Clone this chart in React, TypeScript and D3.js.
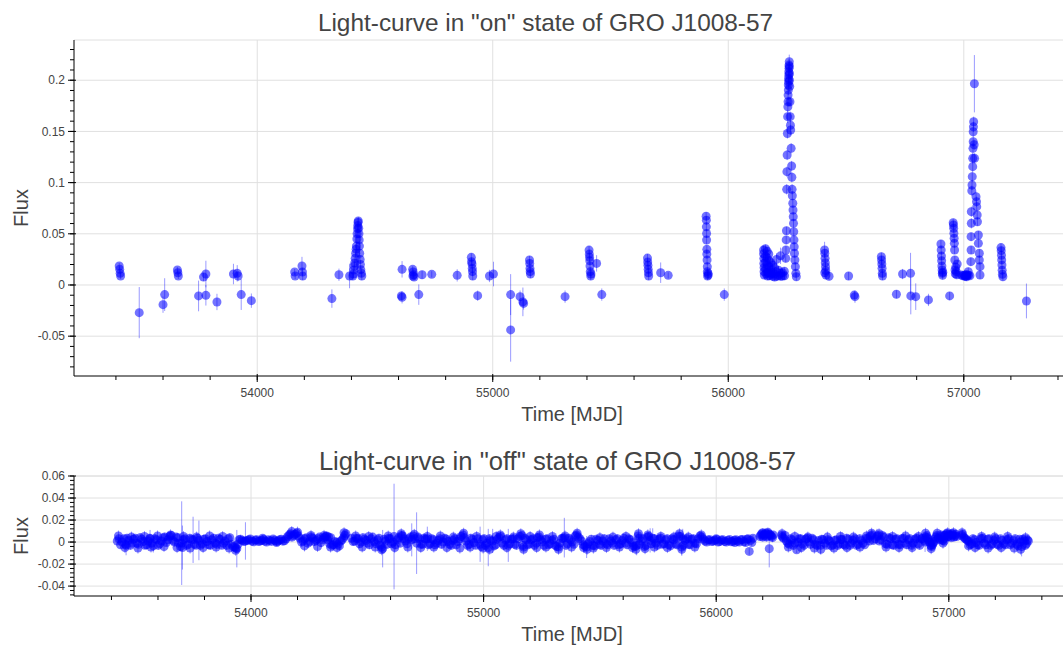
import React from 'react';
import * as d3 from 'd3';

type Pt = [number, number, number]; // [MJD, flux, error]

// ---------- "on" state light-curve ----------
const onQuiet1: Pt[] = [
  [53414, 0.0185, 0.003], [53416, 0.0153, 0.003], [53418, 0.0114, 0.003], [53420, 0.0088, 0.003],
  [53499, -0.027, 0.025],
  [53600, -0.0192, 0.008], [53607, -0.0094, 0.016],
  [53661, 0.0146, 0.003], [53663, 0.012, 0.003], [53665, 0.0088, 0.003],
  [53751, -0.0107, 0.015], [53772, 0.0078, 0.004], [53782, 0.0107, 0.013], [53782, -0.0101, 0.01],
  [53829, -0.0166, 0.008], [53899, 0.0107, 0.01], [53915, 0.0114, 0.008], [53919, 0.0088, 0.005],
  [53932, -0.0094, 0.015], [53975, -0.0153, 0.007],
  [54159, 0.0127, 0.003], [54161, 0.0088, 0.003], [54190, 0.0185, 0.009], [54192, 0.0127, 0.004], [54193, 0.0088, 0.004],
  [54317, -0.0133, 0.009], [54347, 0.01, 0.006], [54392, 0.0088, 0.012],
];
const onFlare2007: Pt[] = [
  [54406, 0.0088, 0.004], [54408, 0.0107, 0.004], [54410, 0.0146, 0.004], [54412, 0.0185, 0.004],
  [54414, 0.0215, 0.004], [54416, 0.026, 0.004], [54418, 0.031, 0.004], [54420, 0.035, 0.004],
  [54421, 0.038, 0.004], [54423, 0.045, 0.004], [54424, 0.05, 0.004], [54426, 0.055, 0.004],
  [54427, 0.058, 0.004], [54428, 0.061, 0.004], [54429, 0.0625, 0.004], [54431, 0.0555, 0.004],
  [54432, 0.05, 0.004], [54433, 0.044, 0.004], [54434, 0.038, 0.004], [54435, 0.031, 0.004],
  [54437, 0.025, 0.004], [54438, 0.02, 0.004], [54440, 0.015, 0.004], [54442, 0.0115, 0.004], [54444, 0.0088, 0.004],
];
const onQuiet2: Pt[] = [
  [54615, 0.0153, 0.008], [54612, -0.0107, 0.004], [54615, -0.012, 0.006],
  [54660, 0.0153, 0.003], [54662, 0.0127, 0.003], [54664, 0.01, 0.003], [54666, 0.0078, 0.003], [54661, 0.0088, 0.003],
  [54686, -0.0094, 0.01], [54700, 0.01, 0.004], [54741, 0.0104, 0.003], [54849, 0.0094, 0.006],
  [54909, 0.027, 0.004], [54910, 0.0227, 0.004], [54912, 0.0205, 0.004], [54913, 0.0162, 0.004], [54914, 0.013, 0.004], [54915, 0.0088, 0.004],
  [54936, -0.0104, 0.005], [54986, 0.0088, 0.006], [55003, 0.0107, 0.012],
  [55076, -0.0094, 0.02], [55076, -0.0439, 0.031], [55116, -0.0114, 0.006],
  [55128, -0.0165, 0.014], [55131, -0.018, 0.006],
  [55156, 0.0244, 0.004], [55157, 0.0211, 0.004], [55158, 0.0162, 0.004], [55159, 0.013, 0.004], [55160, 0.0107, 0.004],
  [55307, -0.0114, 0.006],
  [55409, 0.0341, 0.004], [55410, 0.0302, 0.004], [55411, 0.027, 0.004], [55412, 0.0237, 0.004],
  [55413, 0.0185, 0.004], [55414, 0.013, 0.004], [55416, 0.0088, 0.004], [55417, 0.0107, 0.004],
  [55441, 0.0211, 0.008], [55463, -0.0094, 0.006],
  [55657, 0.0263, 0.004], [55658, 0.0224, 0.004], [55659, 0.0192, 0.004], [55660, 0.0153, 0.004], [55661, 0.012, 0.004], [55662, 0.0088, 0.004],
  [55713, 0.012, 0.01], [55745, 0.0094, 0.003],
  [55906, 0.0672, 0.004], [55907, 0.0633, 0.004], [55907, 0.0568, 0.004], [55908, 0.0503, 0.004],
  [55908, 0.0439, 0.004], [55909, 0.0348, 0.004], [55909, 0.0302, 0.004], [55910, 0.0244, 0.004],
  [55911, 0.0179, 0.004], [55911, 0.013, 0.004], [55912, 0.0088, 0.004], [55914, 0.0112, 0.004], [55915, 0.0098, 0.004],
  [55983, -0.0094, 0.006],
];
const onPreFlare2012: Pt[] = [
  [56150, 0.0342, 0.004], [56150, 0.0305, 0.004], [56151, 0.026, 0.004], [56151, 0.021, 0.004], [56152, 0.017, 0.004], [56152, 0.013, 0.004], [56153, 0.0098, 0.004],
  [56158, 0.0355, 0.004], [56158, 0.028, 0.004], [56159, 0.0225, 0.004], [56159, 0.016, 0.004], [56160, 0.011, 0.004],
  [56165, 0.033, 0.004], [56165, 0.0265, 0.004], [56166, 0.0195, 0.004], [56166, 0.0125, 0.004], [56167, 0.0088, 0.004],
  [56172, 0.0303, 0.004], [56172, 0.024, 0.004], [56173, 0.018, 0.004], [56173, 0.012, 0.004], [56174, 0.009, 0.004],
  [56180, 0.022, 0.004], [56180, 0.015, 0.004], [56181, 0.0105, 0.004],
  [56188, 0.0195, 0.004], [56188, 0.012, 0.004], [56189, 0.0085, 0.004],
  [56196, 0.017, 0.004], [56196, 0.0107, 0.004], [56197, 0.0078, 0.004],
  [56205, 0.025, 0.006], [56205, 0.013, 0.004], [56206, 0.0085, 0.004],
  [56213, 0.0145, 0.004], [56214, 0.0092, 0.004],
  [56222, 0.0285, 0.008], [56222, 0.0115, 0.004], [56223, 0.0085, 0.004],
  [56230, 0.012, 0.004], [56231, 0.0088, 0.004], [56238, 0.0135, 0.004], [56239, 0.009, 0.004],
];
const onFlare2012: Pt[] = [
  [56244, 0.026, 0.004], [56245, 0.0342, 0.004], [56246, 0.044, 0.004], [56247, 0.053, 0.004],
  [56248, 0.0934, 0.005], [56249, 0.1107, 0.005], [56250, 0.127, 0.005], [56251, 0.148, 0.005],
  [56252, 0.1644, 0.006], [56253, 0.1741, 0.005], [56254, 0.179, 0.005], [56254, 0.1855, 0.005],
  [56255, 0.1904, 0.005], [56255, 0.1953, 0.005], [56256, 0.1985, 0.005], [56256, 0.2018, 0.005],
  [56257, 0.2051, 0.005], [56257, 0.2083, 0.005], [56258, 0.2116, 0.006], [56258, 0.2148, 0.006],
  [56259, 0.218, 0.007], [56259, 0.2135, 0.005], [56260, 0.2065, 0.005], [56260, 0.2, 0.005],
  [56261, 0.194, 0.005], [56262, 0.179, 0.005], [56263, 0.1644, 0.005], [56264, 0.156, 0.005],
  [56265, 0.1514, 0.005], [56267, 0.1335, 0.005], [56269, 0.1162, 0.005], [56270, 0.1052, 0.005],
  [56271, 0.0934, 0.005], [56272, 0.0872, 0.004], [56274, 0.0798, 0.004], [56275, 0.0732, 0.004],
  [56276, 0.0667, 0.004], [56277, 0.0602, 0.004], [56278, 0.052, 0.004], [56279, 0.044, 0.004],
  [56280, 0.0374, 0.004], [56281, 0.031, 0.004], [56283, 0.0244, 0.004], [56285, 0.0179, 0.004],
  [56287, 0.0114, 0.004], [56289, 0.0081, 0.004],
];
const onQuiet3: Pt[] = [
  [56409, 0.0342, 0.008], [56410, 0.031, 0.004], [56411, 0.026, 0.004], [56412, 0.0218, 0.004],
  [56413, 0.0179, 0.004], [56414, 0.014, 0.004], [56415, 0.0098, 0.004], [56410, 0.012, 0.004], [56428, 0.0085, 0.004],
  [56511, 0.0088, 0.004], [56535, -0.0099, 0.004], [56538, -0.0114, 0.006],
  [56650, 0.0277, 0.004], [56651, 0.0244, 0.004], [56652, 0.0205, 0.004], [56653, 0.0163, 0.004], [56654, 0.0114, 0.004], [56655, 0.0088, 0.004],
  [56714, -0.0091, 0.004], [56740, 0.0107, 0.005], [56774, 0.0114, 0.02], [56775, -0.0107, 0.018],
  [56796, -0.0114, 0.013], [56850, -0.0146, 0.006],
  [56903, 0.04, 0.004], [56904, 0.0342, 0.004], [56905, 0.0283, 0.004], [56906, 0.0237, 0.004],
  [56907, 0.0186, 0.004], [56908, 0.0146, 0.004], [56909, 0.0114, 0.004], [56910, 0.0094, 0.004], [56911, 0.0125, 0.004],
  [56940, -0.0107, 0.004],
  [56955, 0.0608, 0.004], [56956, 0.0586, 0.004], [56957, 0.0553, 0.004], [56958, 0.0505, 0.004],
  [56959, 0.0456, 0.004], [56960, 0.0407, 0.004], [56961, 0.0342, 0.004], [56962, 0.0244, 0.004],
  [56963, 0.0146, 0.004], [56964, 0.011, 0.004], [56966, 0.0175, 0.004], [56968, 0.013, 0.004],
  [56970, 0.01, 0.004], [56972, 0.0205, 0.004],
  [56990, 0.0098, 0.003], [56996, 0.009, 0.003], [57002, 0.0095, 0.003], [57005, 0.0085, 0.003],
  [57008, 0.0088, 0.003], [57011, 0.0102, 0.003], [57014, 0.0092, 0.003], [57020, 0.0095, 0.003], [57026, 0.009, 0.003],
];
const onFlare2015: Pt[] = [
  [57012, 0.0081, 0.004], [57019, 0.013, 0.004], [57030, 0.0228, 0.004], [57031, 0.0342, 0.004],
  [57031, 0.0472, 0.004], [57032, 0.0602, 0.005], [57032, 0.0716, 0.005], [57034, 0.0921, 0.005],
  [57035, 0.0977, 0.005], [57036, 0.1058, 0.005], [57038, 0.1156, 0.005], [57038, 0.1237, 0.005],
  [57039, 0.1335, 0.005], [57040, 0.14, 0.005], [57040, 0.1497, 0.005], [57041, 0.1545, 0.005],
  [57042, 0.1595, 0.005], [57045, 0.1966, 0.028], [57044, 0.137, 0.005], [57046, 0.1237, 0.005],
  [57052, 0.0863, 0.005], [57054, 0.0814, 0.005], [57055, 0.0765, 0.005], [57057, 0.0684, 0.004],
  [57058, 0.0618, 0.004], [57062, 0.0488, 0.004], [57062, 0.0407, 0.004], [57066, 0.031, 0.004],
  [57066, 0.0244, 0.004], [57069, 0.0179, 0.004], [57069, 0.0098, 0.004],
  [57158, 0.0365, 0.004], [57159, 0.0335, 0.004], [57160, 0.029, 0.004], [57161, 0.0245, 0.004],
  [57162, 0.0195, 0.004], [57163, 0.0145, 0.004], [57164, 0.0105, 0.004], [57166, 0.0081, 0.004],
  [57266, -0.0156, 0.017],
];

// ---------- "off" state light-curve ----------
const offBand1: Pt[] = [
  [53425, 0.001, 0.003], [53439, -0.0025, 0.003], [53453, 0.003, 0.003], [53463, -0.003, 0.009],
  [53474, 0.0015, 0.003], [53488, -0.001, 0.003], [53502, 0.0035, 0.003], [53516, -0.002, 0.003],
  [53530, 0.0025, 0.003], [53544, -0.003, 0.003], [53558, 0.001, 0.003], [53566, 0.003, 0.008],
  [53580, -0.0035, 0.006], [53594, 0.002, 0.003], [53608, -0.0015, 0.003], [53622, 0.004, 0.003],
  [53636, -0.0005, 0.003], [53650, 0.005, 0.003], [53664, 0.0015, 0.003], [53678, 0.0045, 0.003],
  [53690, -0.001, 0.003], [53702, -0.001, 0.038], [53705, -0.005, 0.02], [53716, 0.003, 0.003],
  [53730, -0.002, 0.003], [53744, 0.0025, 0.003], [53751, 0.002, 0.021], [53764, -0.003, 0.003],
  [53776, 0.0015, 0.018], [53790, -0.0015, 0.003], [53804, 0.003, 0.003], [53818, -0.0025, 0.003],
  [53832, 0.002, 0.003], [53846, -0.001, 0.003], [53860, 0.0035, 0.003], [53874, -0.003, 0.003],
  [53888, 0.001, 0.003], [53902, 0.003, 0.003], [53916, -0.002, 0.003], [53930, -0.0045, 0.003],
  [53939, -0.006, 0.017], [53948, 0.002, 0.003], [53962, 0.0015, 0.003], [53976, 0.001, 0.017],
  [53990, 0.002, 0.002], [54004, 0.0008, 0.002], [54018, 0.0018, 0.002], [54032, 0.0005, 0.002],
  [54046, 0.0015, 0.002], [54060, 0.001, 0.002], [54074, 0.0022, 0.002], [54088, 0.0006, 0.002],
  [54102, 0.0016, 0.002], [54116, 0.001, 0.002], [54130, 0.0025, 0.002], [54144, 0.0012, 0.002],
  [54158, 0.005, 0.003], [54170, 0.0075, 0.003], [54182, 0.006, 0.003], [54196, 0.008, 0.003],
  [54210, 0.0035, 0.003], [54224, 0.001, 0.003], [54238, 0.004, 0.003], [54252, 0.0005, 0.003],
  [54266, 0.0035, 0.003], [54280, 0.0015, 0.003], [54294, 0.0045, 0.003], [54308, 0.002, 0.003],
  [54320, 0.005, 0.003], [54330, 0.002, 0.003], [54338, -0.0015, 0.003], [54348, -0.003, 0.003],
  [54362, 0.0005, 0.003], [54374, -0.002, 0.003], [54386, 0.001, 0.003], [54398, 0.004, 0.003],
  [54408, 0.0075, 0.003],
];
const offBand1b: Pt[] = [
  [53432, 0.003, 0.004], [53446, 0.0, 0.004], [53460, -0.002, 0.004], [53467, 0.0035, 0.004],
  [53481, -0.003, 0.004], [53495, 0.0025, 0.004], [53509, -0.001, 0.004], [53523, 0.004, 0.004],
  [53537, 0.0005, 0.004], [53551, -0.0025, 0.004], [53565, 0.0035, 0.004], [53573, -0.001, 0.004],
  [53587, 0.003, 0.004], [53601, -0.003, 0.004], [53615, 0.001, 0.004], [53629, 0.0045, 0.004],
  [53643, 0.002, 0.004], [53657, 0.006, 0.004], [53671, 0.0, 0.004], [53685, 0.004, 0.004],
  [53697, -0.004, 0.004], [53709, 0.002, 0.004], [53723, -0.003, 0.004], [53737, 0.0035, 0.004],
  [53757, -0.002, 0.004], [53770, 0.0035, 0.004], [53783, -0.003, 0.004], [53797, 0.0025, 0.004],
  [53811, 0.0005, 0.004], [53825, -0.003, 0.004], [53839, 0.0035, 0.004], [53853, -0.002, 0.004],
  [53867, 0.0025, 0.004], [53881, -0.001, 0.004], [53895, -0.003, 0.004], [53909, 0.004, 0.004],
  [53923, -0.004, 0.004], [53935, -0.0055, 0.004], [53944, -0.002, 0.004], [53955, 0.0025, 0.004],
  [53969, 0.0005, 0.003], [53983, 0.0015, 0.003], [53997, 0.0028, 0.003], [54011, 0.0002, 0.003],
  [54025, 0.0022, 0.003], [54039, 0.001, 0.003], [54053, 0.0025, 0.003], [54067, 0.0, 0.003],
  [54081, 0.0015, 0.003], [54095, 0.0028, 0.003], [54109, 0.0004, 0.003], [54123, 0.002, 0.003],
  [54137, 0.0008, 0.003], [54151, 0.003, 0.003], [54164, 0.0065, 0.004], [54176, 0.0045, 0.004],
  [54189, 0.007, 0.004], [54203, 0.0055, 0.004], [54217, 0.0, 0.004], [54231, 0.003, 0.004],
  [54245, -0.001, 0.004], [54259, 0.0045, 0.004], [54273, 0.0005, 0.004], [54287, 0.003, 0.004],
  [54301, -0.0005, 0.004], [54314, 0.004, 0.004], [54325, 0.0055, 0.004], [54334, 0.0045, 0.004],
  [54343, 0.004, 0.004], [54355, -0.0025, 0.004], [54368, -0.0005, 0.004], [54380, -0.0035, 0.004],
  [54392, 0.002, 0.004], [54403, 0.006, 0.004],
];
const offBand2: Pt[] = [
  [54432, 0.0035, 0.003], [54446, 0.001, 0.003], [54460, 0.003, 0.003], [54474, 0.0, 0.003],
  [54488, 0.0025, 0.003], [54502, -0.001, 0.003], [54516, 0.003, 0.003], [54530, 0.0005, 0.003],
  [54544, 0.002, 0.003], [54556, -0.003, 0.003], [54566, -0.006, 0.017], [54578, 0.001, 0.003],
  [54592, 0.0035, 0.003], [54604, -0.0015, 0.003], [54615, 0.005, 0.048], [54628, 0.002, 0.003],
  [54642, -0.001, 0.003], [54652, 0.0055, 0.003], [54664, 0.001, 0.003], [54678, 0.003, 0.003],
  [54691, 0.002, 0.015], [54698, 0.0055, 0.003], [54712, -0.001, 0.028], [54724, 0.003, 0.003],
  [54738, -0.002, 0.003], [54750, 0.0025, 0.003], [54758, 0.003, 0.011], [54770, -0.0015, 0.003],
  [54784, 0.002, 0.003], [54798, -0.001, 0.003], [54812, 0.003, 0.003], [54826, 0.0, 0.003],
  [54840, 0.0025, 0.003], [54854, -0.002, 0.003], [54868, 0.0015, 0.003], [54882, -0.0025, 0.003],
  [54896, 0.003, 0.003], [54911, 0.0065, 0.003], [54924, 0.001, 0.003], [54938, -0.002, 0.003],
  [54952, 0.0025, 0.003], [54966, -0.003, 0.003], [54985, -0.002, 0.016], [54996, 0.002, 0.003],
  [55008, -0.003, 0.003], [55020, -0.005, 0.017], [55030, 0.0015, 0.003], [55039, 0.001, 0.011],
  [55052, -0.0025, 0.003], [55066, 0.004, 0.003], [55080, -0.001, 0.003], [55094, 0.002, 0.003],
  [55106, -0.003, 0.015], [55120, 0.0025, 0.003], [55134, -0.002, 0.003], [55148, 0.003, 0.003],
  [55164, 0.006, 0.003], [55172, -0.0045, 0.003], [55184, 0.002, 0.003], [55198, -0.0015, 0.003],
  [55212, 0.003, 0.003], [55226, -0.001, 0.003], [55238, 0.0045, 0.003], [55252, 0.0, 0.003],
  [55266, 0.0025, 0.003], [55280, -0.0025, 0.003], [55294, 0.0015, 0.003], [55308, -0.003, 0.003],
  [55322, -0.0045, 0.003], [55334, 0.003, 0.003], [55347, 0.004, 0.018], [55360, -0.0015, 0.003],
  [55374, 0.002, 0.003], [55388, -0.002, 0.003], [55400, 0.0065, 0.003], [55414, 0.003, 0.003],
  [55428, -0.0025, 0.003], [55443, -0.0045, 0.01], [55456, 0.0005, 0.003], [55470, -0.003, 0.003],
  [55484, 0.0025, 0.003], [55498, -0.002, 0.003], [55512, 0.001, 0.003], [55526, -0.0015, 0.003],
  [55540, 0.003, 0.003], [55554, -0.001, 0.003], [55568, 0.002, 0.003], [55582, -0.0025, 0.003],
  [55596, 0.0015, 0.003], [55610, -0.001, 0.003], [55624, 0.003, 0.003], [55638, -0.0005, 0.003],
  [55652, -0.004, 0.003], [55658, -0.003, 0.009], [55664, 0.0055, 0.003], [55678, 0.001, 0.003],
  [55692, -0.004, 0.003], [55704, 0.0045, 0.003], [55716, 0.0015, 0.011], [55727, 0.0035, 0.009],
  [55740, -0.001, 0.003], [55754, 0.0025, 0.003], [55768, -0.002, 0.003], [55782, 0.002, 0.003],
  [55796, -0.0025, 0.003], [55810, 0.003, 0.003], [55824, -0.0015, 0.003], [55838, 0.0055, 0.003],
  [55852, -0.0045, 0.008], [55856, 0.003, 0.009], [55866, 0.0015, 0.003], [55880, -0.002, 0.003],
  [55894, 0.0025, 0.003], [55908, -0.001, 0.003], [55922, 0.003, 0.003], [55938, 0.0045, 0.003],
  [55952, 0.001, 0.002], [55966, 0.002, 0.002], [55980, 0.0005, 0.002], [55994, 0.0015, 0.002],
  [56008, 0.0, 0.002], [56022, 0.0018, 0.002], [56036, 0.0006, 0.002], [56050, 0.0014, 0.002],
  [56064, 0.0002, 0.002], [56078, 0.0016, 0.002], [56092, 0.0008, 0.002], [56106, 0.002, 0.002],
  [56120, 0.0004, 0.002], [56132, 0.0025, 0.003], [56142, -0.0085, 0.003], [56148, 0.0015, 0.003],
  [56158, 0.0035, 0.003],
];
const offBand2b: Pt[] = [
  [54439, 0.0005, 0.004], [54453, 0.0035, 0.004], [54467, -0.0015, 0.004], [54481, 0.004, 0.004],
  [54495, 0.0015, 0.004], [54509, -0.0025, 0.004], [54523, 0.0045, 0.004], [54537, -0.0015, 0.004],
  [54550, 0.0035, 0.004], [54561, -0.0045, 0.004], [54572, 0.0025, 0.004], [54585, -0.002, 0.004],
  [54598, 0.003, 0.004], [54610, 0.0, 0.004], [54621, -0.0025, 0.004], [54635, 0.004, 0.004],
  [54647, 0.006, 0.004], [54658, 0.003, 0.004], [54671, -0.0015, 0.004], [54685, 0.0045, 0.004],
  [54704, 0.003, 0.004], [54718, 0.0045, 0.004], [54731, -0.002, 0.004], [54744, 0.0035, 0.004],
  [54764, -0.0025, 0.004], [54777, 0.003, 0.004], [54791, -0.0025, 0.004], [54805, 0.0015, 0.004],
  [54819, -0.002, 0.004], [54833, 0.0035, 0.004], [54847, 0.0005, 0.004], [54861, -0.003, 0.004],
  [54875, 0.003, 0.004], [54889, 0.0005, 0.004], [54903, 0.005, 0.004], [54917, 0.004, 0.004],
  [54931, -0.003, 0.004], [54945, 0.0035, 0.004], [54959, -0.0005, 0.004], [54975, 0.003, 0.004],
  [54990, -0.004, 0.004], [55002, 0.003, 0.004], [55014, -0.001, 0.004], [55025, 0.003, 0.004],
  [55045, -0.0035, 0.004], [55059, 0.0025, 0.004], [55073, 0.005, 0.004], [55087, -0.003, 0.004],
  [55100, 0.003, 0.004], [55113, -0.0015, 0.004], [55127, 0.003, 0.004], [55141, -0.003, 0.004],
  [55156, 0.005, 0.004], [55168, -0.003, 0.004], [55178, 0.0035, 0.004], [55191, -0.0025, 0.004],
  [55205, 0.002, 0.004], [55219, -0.003, 0.004], [55231, 0.004, 0.004], [55245, 0.002, 0.004],
  [55259, -0.003, 0.004], [55273, 0.003, 0.004], [55287, -0.0015, 0.004], [55301, 0.0025, 0.004],
  [55315, -0.004, 0.004], [55328, -0.001, 0.004], [55340, 0.0035, 0.004], [55354, -0.003, 0.004],
  [55367, 0.0035, 0.004], [55381, 0.0, 0.004], [55394, 0.0055, 0.004], [55407, 0.0045, 0.004],
  [55421, 0.001, 0.004], [55436, -0.0035, 0.004], [55449, -0.0015, 0.004], [55463, 0.0025, 0.004],
  [55477, -0.0035, 0.004], [55491, 0.0015, 0.004], [55505, -0.003, 0.004], [55519, 0.003, 0.004],
  [55533, -0.0025, 0.004], [55547, 0.001, 0.004], [55561, -0.003, 0.004], [55575, 0.003, 0.004],
  [55589, -0.0015, 0.004], [55603, 0.0035, 0.004], [55617, -0.0025, 0.004], [55631, 0.002, 0.004],
  [55645, -0.0035, 0.004], [55668, 0.0035, 0.004], [55671, -0.002, 0.004], [55685, 0.003, 0.004],
  [55698, -0.003, 0.004], [55710, 0.005, 0.004], [55721, -0.0015, 0.004], [55734, 0.003, 0.004],
  [55747, -0.003, 0.004], [55761, 0.0035, 0.004], [55775, -0.0015, 0.004], [55789, 0.003, 0.004],
  [55803, -0.0035, 0.004], [55817, 0.002, 0.004], [55831, -0.0025, 0.004], [55845, 0.005, 0.004],
  [55859, -0.003, 0.004], [55873, 0.003, 0.004], [55887, -0.0025, 0.004], [55901, 0.003, 0.004],
  [55915, -0.0015, 0.004], [55930, 0.0055, 0.004], [55945, 0.0025, 0.003], [55959, 0.0, 0.003],
  [55973, 0.0022, 0.003], [55987, 0.0008, 0.003], [56001, 0.0024, 0.003], [56015, 0.0004, 0.003],
  [56029, 0.002, 0.003], [56043, 0.0, 0.003], [56057, 0.0024, 0.003], [56071, 0.0006, 0.003],
  [56085, 0.0022, 0.003], [56099, 0.0, 0.003], [56113, 0.0024, 0.003], [56126, -0.0005, 0.003],
  [56137, 0.003, 0.003], [56153, -0.0005, 0.003],
];
const offBand3: Pt[] = [
  [56188, 0.005, 0.003], [56196, 0.0075, 0.003], [56204, 0.006, 0.003], [56212, 0.008, 0.003],
  [56220, 0.0055, 0.003], [56228, -0.006, 0.017], [56230, 0.007, 0.003], [56238, 0.005, 0.003],
  [56245, 0.0065, 0.003],
  [56192, 0.0065, 0.004], [56200, 0.0045, 0.004], [56208, 0.007, 0.004], [56216, 0.0045, 0.004],
  [56224, 0.0075, 0.004], [56234, 0.006, 0.004], [56242, 0.004, 0.004],
];
const offBand4: Pt[] = [
  [56281, 0.006, 0.003], [56290, 0.0035, 0.003], [56302, 0.001, 0.003], [56314, -0.002, 0.003],
  [56326, 0.002, 0.003], [56338, -0.001, 0.003], [56346, -0.007, 0.003], [56356, 0.003, 0.003],
  [56370, -0.0015, 0.003], [56384, 0.0025, 0.003], [56398, 0.0, 0.003], [56412, 0.0035, 0.003],
  [56426, -0.002, 0.003], [56440, 0.0015, 0.003], [56448, -0.003, 0.008], [56460, 0.002, 0.003],
  [56474, -0.003, 0.003], [56488, 0.001, 0.003], [56502, -0.0025, 0.003], [56516, 0.002, 0.003],
  [56530, -0.0015, 0.003], [56541, 0.002, 0.007], [56554, -0.003, 0.003], [56568, 0.0025, 0.003],
  [56582, -0.001, 0.003], [56596, 0.003, 0.003], [56610, -0.002, 0.003], [56624, 0.0015, 0.003],
  [56638, -0.0025, 0.003], [56652, 0.003, 0.003], [56664, 0.0055, 0.003], [56676, 0.0015, 0.003],
  [56691, 0.005, 0.007], [56702, 0.001, 0.003], [56714, 0.006, 0.003], [56728, -0.0015, 0.003],
  [56742, 0.004, 0.003], [56756, -0.0025, 0.003], [56770, 0.0025, 0.003], [56784, -0.002, 0.003],
  [56798, 0.003, 0.003], [56812, -0.001, 0.003], [56826, 0.002, 0.003], [56840, -0.003, 0.003],
  [56854, 0.0025, 0.003], [56868, -0.0015, 0.003], [56882, 0.003, 0.003], [56894, 0.0015, 0.003],
  [56898, 0.0, 0.009], [56905, 0.006, 0.003], [56912, 0.0025, 0.003], [56919, -0.0005, 0.003],
  [56926, -0.004, 0.003], [56933, -0.001, 0.003], [56940, 0.0025, 0.003], [56948, 0.006, 0.003],
  [56962, 0.002, 0.003], [56969, 0.005, 0.003], [56978, 0.003, 0.003], [56980, 0.0008, 0.003],
  [56986, 0.0065, 0.003], [56994, 0.0045, 0.003], [57002, 0.007, 0.003], [57010, 0.004, 0.003],
  [57018, 0.0065, 0.003], [57026, 0.0055, 0.003], [57034, 0.005, 0.003],
];
const offBand4b: Pt[] = [
  [56285, 0.0045, 0.004], [56296, 0.006, 0.004], [56308, -0.001, 0.004], [56320, 0.003, 0.004],
  [56332, -0.003, 0.004], [56351, 0.0, 0.004], [56363, 0.003, 0.004], [56377, -0.003, 0.004],
  [56391, 0.0035, 0.004], [56405, -0.002, 0.004], [56419, 0.002, 0.004], [56433, -0.003, 0.004],
  [56454, 0.0025, 0.004], [56467, -0.001, 0.004], [56481, 0.002, 0.004], [56495, -0.0035, 0.004],
  [56509, 0.0015, 0.004], [56523, -0.003, 0.004], [56536, 0.0025, 0.004], [56547, -0.002, 0.004],
  [56561, 0.0035, 0.004], [56575, -0.003, 0.004], [56589, 0.0015, 0.004], [56603, -0.003, 0.004],
  [56617, 0.003, 0.004], [56631, -0.001, 0.004], [56645, 0.0035, 0.004], [56658, 0.001, 0.004],
  [56670, 0.0065, 0.004], [56684, 0.003, 0.004], [56696, 0.006, 0.004], [56708, 0.002, 0.004],
  [56721, 0.0045, 0.004], [56735, -0.002, 0.004], [56749, 0.003, 0.004], [56763, -0.003, 0.004],
  [56777, 0.003, 0.004], [56791, -0.0025, 0.004], [56805, 0.0035, 0.004], [56819, -0.0025, 0.004],
  [56833, 0.003, 0.004], [56847, -0.001, 0.004], [56861, 0.0035, 0.004], [56875, -0.003, 0.004],
  [56888, 0.0035, 0.004], [56902, 0.0045, 0.004], [56909, 0.004, 0.004], [56915, 0.0005, 0.004],
  [56922, -0.003, 0.004], [56930, -0.0025, 0.004], [56937, 0.0005, 0.004], [56944, 0.0045, 0.004],
  [56955, 0.0035, 0.004], [56966, 0.0065, 0.004], [56974, 0.0015, 0.004], [56982, 0.006, 0.004],
  [56990, 0.0075, 0.004], [56998, 0.005, 0.004], [57006, 0.006, 0.004], [57014, 0.0075, 0.004],
  [57022, 0.0045, 0.004], [57030, 0.007, 0.004],
];
const offBand5: Pt[] = [
  [57055, 0.006, 0.003], [57064, 0.0045, 0.003], [57074, 0.0025, 0.003], [57086, 0.0005, 0.003],
  [57098, -0.0015, 0.003], [57110, 0.002, 0.003], [57124, -0.0025, 0.003], [57138, 0.003, 0.003],
  [57152, -0.001, 0.003], [57166, 0.0025, 0.003], [57180, -0.003, 0.003], [57194, 0.0015, 0.003],
  [57208, -0.002, 0.003], [57222, 0.003, 0.003], [57236, -0.0015, 0.003], [57250, 0.002, 0.003],
  [57264, -0.0025, 0.003], [57278, 0.0015, 0.003], [57292, -0.002, 0.003], [57304, 0.0025, 0.003],
  [57313, -0.004, 0.009], [57324, 0.001, 0.003], [57334, -0.0015, 0.003], [57342, 0.001, 0.003],
  [57059, 0.007, 0.004], [57069, 0.0035, 0.004], [57080, 0.0015, 0.004], [57092, -0.0025, 0.004],
  [57104, 0.003, 0.004], [57117, -0.0005, 0.004], [57131, -0.003, 0.004], [57145, 0.0035, 0.004],
  [57159, -0.0025, 0.004], [57173, 0.003, 0.004], [57187, -0.0015, 0.004], [57201, 0.003, 0.004],
  [57215, -0.003, 0.004], [57229, 0.0015, 0.004], [57243, -0.0025, 0.004], [57257, 0.003, 0.004],
  [57271, -0.001, 0.004], [57285, 0.003, 0.004], [57298, -0.0035, 0.004], [57308, 0.0, 0.004],
  [57319, 0.0025, 0.004], [57329, -0.003, 0.004], [57338, 0.002, 0.004],
];
// scattered points on the edges of the "off" band
const offEdges: Pt[] = [
  [53430, 0.0055, 0.005], [53458, -0.005, 0.005], [53486, 0.0045, 0.005], [53514, -0.0055, 0.005],
  [53542, 0.005, 0.005], [53570, -0.0045, 0.005], [53598, 0.0055, 0.005], [53626, -0.004, 0.005],
  [53654, 0.0065, 0.005], [53682, -0.005, 0.005], [53710, 0.005, 0.005], [53738, -0.0055, 0.005],
  [53766, 0.0045, 0.005], [53794, -0.005, 0.005], [53822, 0.0055, 0.005], [53850, -0.0045, 0.005],
  [53878, 0.005, 0.005], [53906, -0.0055, 0.005], [53934, -0.0075, 0.005],
  [54050, 0.0035, 0.003], [54110, -0.0005, 0.003],
  [54175, 0.0095, 0.005], [54200, 0.009, 0.005], [54230, -0.0035, 0.005], [54258, 0.006, 0.005],
  [54286, -0.004, 0.005], [54314, 0.006, 0.005], [54342, -0.0045, 0.005], [54370, -0.005, 0.005],
  [54400, 0.0085, 0.005],
  [54450, 0.0055, 0.005], [54478, -0.0045, 0.005], [54506, 0.005, 0.005], [54534, -0.0045, 0.005],
  [54562, -0.007, 0.005], [54590, 0.0055, 0.005], [54618, -0.005, 0.005], [54646, 0.0075, 0.005],
  [54674, -0.0045, 0.005], [54702, 0.007, 0.005], [54730, -0.005, 0.005], [54758, 0.005, 0.005],
  [54786, -0.0045, 0.005], [54814, 0.0055, 0.005], [54842, -0.005, 0.005], [54870, 0.0045, 0.005],
  [54898, -0.0055, 0.005], [54914, 0.008, 0.005], [54942, -0.0045, 0.005], [54970, 0.005, 0.005],
  [54998, -0.0055, 0.005], [55026, -0.0065, 0.005], [55054, 0.005, 0.005], [55072, 0.0065, 0.005],
  [55100, -0.005, 0.005], [55128, 0.0045, 0.005], [55160, 0.0075, 0.005], [55172, -0.0065, 0.005],
  [55200, 0.005, 0.005], [55228, -0.005, 0.005], [55240, 0.0065, 0.005], [55268, -0.0045, 0.005],
  [55296, 0.005, 0.005], [55322, -0.0065, 0.005], [55350, 0.0055, 0.005], [55378, -0.0045, 0.005],
  [55402, 0.008, 0.005], [55430, -0.005, 0.005], [55445, -0.0065, 0.005], [55472, -0.0055, 0.005],
  [55500, 0.004, 0.005], [55528, -0.005, 0.005], [55556, 0.0045, 0.005], [55584, -0.0045, 0.005],
  [55612, 0.005, 0.005], [55640, -0.005, 0.005], [55655, -0.0065, 0.005], [55666, 0.0075, 0.005],
  [55694, -0.006, 0.005], [55706, 0.0065, 0.005], [55734, -0.0045, 0.005], [55762, 0.005, 0.005],
  [55790, -0.005, 0.005], [55818, 0.0045, 0.005], [55842, 0.0075, 0.005], [55852, -0.0065, 0.005],
  [55880, 0.0045, 0.005], [55908, -0.0045, 0.005], [55936, 0.0065, 0.005],
  [56000, 0.003, 0.003], [56080, -0.0005, 0.003],
  [56200, 0.0085, 0.004], [56222, 0.009, 0.004],
  [56283, 0.0075, 0.005], [56310, -0.0045, 0.005], [56338, 0.005, 0.005], [56366, -0.005, 0.005],
  [56394, 0.0045, 0.005], [56422, -0.0055, 0.005], [56450, -0.0065, 0.005], [56478, 0.0045, 0.005],
  [56506, -0.0055, 0.005], [56534, 0.005, 0.005], [56562, -0.005, 0.005], [56590, 0.0045, 0.005],
  [56618, -0.0045, 0.005], [56646, 0.0055, 0.005], [56668, 0.008, 0.005], [56700, 0.0075, 0.005],
  [56730, -0.0045, 0.005], [56758, 0.005, 0.005], [56786, -0.005, 0.005], [56814, 0.0055, 0.005],
  [56842, -0.005, 0.005], [56870, 0.005, 0.005], [56900, 0.008, 0.005], [56924, -0.006, 0.005],
  [56950, 0.008, 0.005], [56975, -0.001, 0.005], [56995, 0.0085, 0.005], [57020, 0.0085, 0.005],
  [57057, 0.0085, 0.005], [57085, -0.0035, 0.005], [57113, -0.005, 0.005], [57141, 0.005, 0.005],
  [57169, -0.0055, 0.005], [57197, 0.0045, 0.005], [57225, -0.005, 0.005], [57253, 0.005, 0.005],
  [57281, -0.0055, 0.005], [57309, -0.0065, 0.005], [57330, 0.004, 0.005],
];

// ---------- axes ----------
const xMajorTicks = [54000, 55000, 56000, 57000];
const onYTicks = [-0.05, 0, 0.05, 0.1, 0.15, 0.2];
const offYTicks = [-0.04, -0.02, 0, 0.02, 0.04, 0.06];
const onTitle = 'Light-curve in "on" state of GRO J1008-57';
const offTitle = 'Light-curve in "off" state of GRO J1008-57';
const xLabel = 'Time [MJD]';
const yLabel = 'Flux';

const FONT = "'Liberation Sans', Arial, Helvetica, sans-serif";
const TEXT = '#444444';
const GRID = '#e0e0e0';

interface PanelProps {
  id: string;
  points: Pt[];
  xDomain: [number, number];
  yDomain: [number, number];
  left: number; right: number; top: number; bottom: number;
  yTicks: number[];
  yMinorStep: number;
  title: string;
  titleY: number;
  titleX: number;
  titleSize: number;
  xLabelY: number;
}

function Panel(p: PanelProps) {
  const x = d3.scaleLinear().domain(p.xDomain).range([p.left, p.right]);
  const y = d3.scaleLinear().domain(p.yDomain).range([p.bottom, p.top]);
  const xMinor = d3.range(53000, 58000, 200).filter(v => v >= p.xDomain[0] && v <= p.xDomain[1]);
  const nMin = Math.ceil(p.yDomain[0] / p.yMinorStep - 1e-6);
  const nMax = Math.floor(p.yDomain[1] / p.yMinorStep + 1e-6);
  const yMinor = d3.range(nMin, nMax + 1).map(i => +(i * p.yMinorStep).toFixed(5));
  const midY = (p.top + p.bottom) / 2;
  const midX = (p.left + p.right) / 2;
  return (
    <g>
      <defs>
        <clipPath id={p.id}>
          <rect x={p.left} y={p.top} width={p.right - p.left} height={p.bottom - p.top} />
        </clipPath>
      </defs>
      {p.yTicks.map(v => (
        <line key={'gy' + v} x1={p.left} x2={p.right} y1={y(v)} y2={y(v)} stroke={GRID} strokeWidth={1} />
      ))}
      {xMajorTicks.map(v => (
        <line key={'gx' + v} x1={x(v)} x2={x(v)} y1={p.top} y2={p.bottom} stroke={GRID} strokeWidth={1} />
      ))}
      <line x1={p.left} x2={p.right} y1={p.top} y2={p.top} stroke={GRID} strokeWidth={1} />
      <g clipPath={`url(#${p.id})`}>
        {p.points.map((d, i) => (
          <line key={'e' + i} x1={x(d[0])} x2={x(d[0])} y1={y(d[1] - d[2])} y2={y(d[1] + d[2])}
            stroke="#0000ff" strokeOpacity={0.4} strokeWidth={1} />
        ))}
        {p.points.map((d, i) => (
          <circle key={'c' + i} cx={x(d[0])} cy={y(d[1])} r={4.5}
            fill="#0000ff" fillOpacity={0.55} />
        ))}
      </g>
      <line x1={p.left} x2={p.left} y1={p.top} y2={p.bottom} stroke="#000" strokeWidth={1} />
      {yMinor.map(v => (
        <line key={'ym' + v} x1={p.left - 4} x2={p.left} y1={y(v)} y2={y(v)} stroke="#000" strokeWidth={1} />
      ))}
      {p.yTicks.map(v => (
        <g key={'yt' + v}>
          <line x1={p.left - 6} x2={p.left + 2} y1={y(v)} y2={y(v)} stroke="#000" strokeWidth={1} />
          <text x={p.left - 9} y={y(v)} dy="0.35em" textAnchor="end" fontSize={12} fill={TEXT}>{String(v)}</text>
        </g>
      ))}
      <line x1={p.left} x2={p.right} y1={p.bottom} y2={p.bottom} stroke="#000" strokeWidth={1} />
      {xMinor.map(v => (
        <line key={'xm' + v} x1={x(v)} x2={x(v)} y1={p.bottom} y2={p.bottom + 4} stroke="#000" strokeWidth={1} />
      ))}
      {xMajorTicks.map(v => (
        <g key={'xt' + v}>
          <line x1={x(v)} x2={x(v)} y1={p.bottom - 2} y2={p.bottom + 6} stroke="#000" strokeWidth={1} />
          <text x={x(v)} y={p.bottom + 21} textAnchor="middle" fontSize={12} fill={TEXT}>{String(v)}</text>
        </g>
      ))}
      <text x={midX} y={p.xLabelY} textAnchor="middle" fontSize={20} fill={TEXT}>{xLabel}</text>
      <text transform={`translate(28,${midY}) rotate(-90)`} textAnchor="middle" fontSize={20} fill={TEXT}>{yLabel}</text>
      <text x={p.titleX} y={p.titleY} textAnchor="middle" fontSize={p.titleSize} fill={TEXT}>{p.title}</text>
    </g>
  );
}

export default function App() {
  const onPoints = [...onQuiet1, ...onFlare2007, ...onQuiet2, ...onPreFlare2012, ...onFlare2012, ...onQuiet3, ...onFlare2015];
  const offPoints = [...offBand1, ...offBand1b, ...offBand2, ...offBand2b, ...offBand3, ...offBand4, ...offBand4b, ...offBand5, ...offEdges];
  return (
    <svg width={1063} height={647} style={{ position: 'absolute', left: 0, top: 0, background: '#fff' }}
      fontFamily={FONT}>
      <rect x={0} y={0} width={1063} height={647} fill="#fff" />
      <Panel id="clipOn" points={onPoints} xDomain={[53222, 57451]} yDomain={[-0.0889, 0.2393]}
        left={74} right={1070} top={40} bottom={376} yTicks={onYTicks} yMinorStep={0.01}
        title={onTitle} titleX={545.5} titleY={31} titleSize={24.4} xLabelY={421} />
      <Panel id="clipOff" points={offPoints} xDomain={[53239, 57521]} yDomain={[-0.049, 0.06]}
        left={74} right={1070} top={476} bottom={596} yTicks={offYTicks} yMinorStep={0.004}
        title={offTitle} titleX={557.5} titleY={470} titleSize={25.6} xLabelY={641} />
    </svg>
  );
}
